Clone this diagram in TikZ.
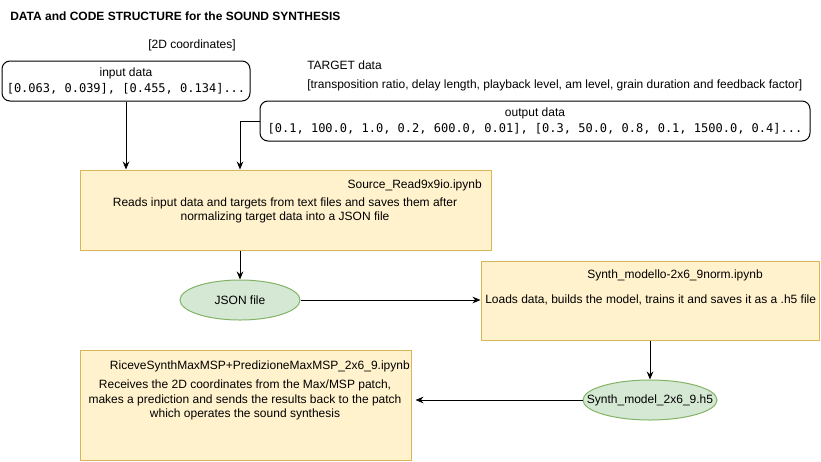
\documentclass[tikz,border=0pt]{standalone}
\usepackage{fontspec}
\setmainfont{Liberation Sans}
\setmonofont{DejaVu Sans Mono}
\usetikzlibrary{arrows.meta,shapes.geometric}

\definecolor{codefill}{HTML}{FFF2CC}
\definecolor{codedraw}{HTML}{D6B656}
\definecolor{filefill}{HTML}{D5E8D4}
\definecolor{filedraw}{HTML}{82B366}

\begin{document}
\begin{tikzpicture}[
    x=0.75pt,
    y=-0.75pt,
    font=\fontsize{9}{11}\selectfont,
    databox/.style={
        rectangle,
        draw=black,
        line width=0.75pt,
        rounded corners=6pt,
        minimum height=30pt,
        inner sep=0pt,
        align=center
    },
    codebox/.style={
        rectangle,
        draw=codedraw,
        fill=codefill,
        line width=0.75pt,
        inner sep=0pt
    },
    filenode/.style={
        ellipse,
        draw=filedraw,
        fill=filefill,
        line width=0.75pt,
        minimum height=30pt,
        inner sep=0pt
    },
    caption/.style={
        inner sep=0pt,
        align=center
    },
    arrow/.style={
        -{Stealth[length=6pt,width=5pt]},
        line width=0.75pt,
        black
    }
]

\useasboundingbox (0,0) rectangle (821,461);

% --- Title ---
\node[caption, anchor=west, font=\fontsize{9}{11}\selectfont\bfseries] (title) at (10,16)
    {DATA and CODE STRUCTURE for the SOUND SYNTHESIS};

% --- Data (input / target) ---
\node[caption] (coords) at (192,45) {[2D coordinates]};
\node[databox, minimum width=186pt] (input) at (126,81)
    {input data\\[1pt]\texttt{[0.063, 0.039], [0.455, 0.134]...}};

\node[caption, anchor=west] (target) at (307,65) {TARGET data};
\node[caption, anchor=west] (targetlist) at (307,85)
    {[transposition ratio, delay length, playback level, am level, grain duration and feedback factor]};
\node[databox, minimum width=412.5pt] (output) at (535,121)
    {output data\\[1pt]\texttt{[0.1, 100.0, 1.0, 0.2, 600.0, 0.01], [0.3, 50.0, 0.8, 0.1, 1500.0, 0.4]...}};

% --- Source_Read ---
\node[codebox, minimum width=308.25pt, minimum height=60pt] (source) at (285.5,210) {};
\node[caption, anchor=east] (sourcename) at (482,185) {Source\_Read9x9io.ipynb};
\node[caption] (sourcetext) at (285,210.5)
    {Reads input data and targets from text files and saves them after\\normalizing target data into a JSON file};

\node[filenode, minimum width=90pt, label=center:{JSON file}] (json) at (240,300) {};

% --- Model ---
\node[codebox, minimum width=253.5pt, minimum height=59.25pt] (synth) at (650,300.5) {};
\node[caption] (synthname) at (675,275) {Synth\_modello-2x6\_9norm.ipynb};
\node[caption, anchor=west] (synthtext) at (485,300)
    {Loads data, builds the model, trains it and saves it as a .h5 file};

\node[filenode, minimum width=100.5pt, label=center:{Synth\_model\_2x6\_9.h5}] (h5) at (650,400) {};

% --- Prediction ---
\node[codebox, minimum width=248.25pt, minimum height=82.5pt] (riceve) at (245.5,405) {};
\node[caption, anchor=east] (ricevename) at (410,366) {RiceveSynthMaxMSP+PredizioneMaxMSP\_2x6\_9.ipynb};
\node[caption] (ricevetext) at (245,400)
    {Receives the 2D coordinates from the Max/MSP patch,\\makes a prediction and sends the results back to the patch\\which operates the sound synthesis};

% --- Connectors ---
\draw[arrow] (input) -- (input |- source.north);
\draw[arrow] (output.west) -| (json.north |- source.north);
\draw[arrow] (source.south -| json) -- (json.north);
\draw[arrow] (json.east) -- (json.east -| synth.west);
\draw[arrow] (synth.south -| h5) -- (h5.north);
\draw[arrow, shorten >=3pt] (h5.west) -- (h5.west -| riceve.east);

\end{tikzpicture}
\end{document}
